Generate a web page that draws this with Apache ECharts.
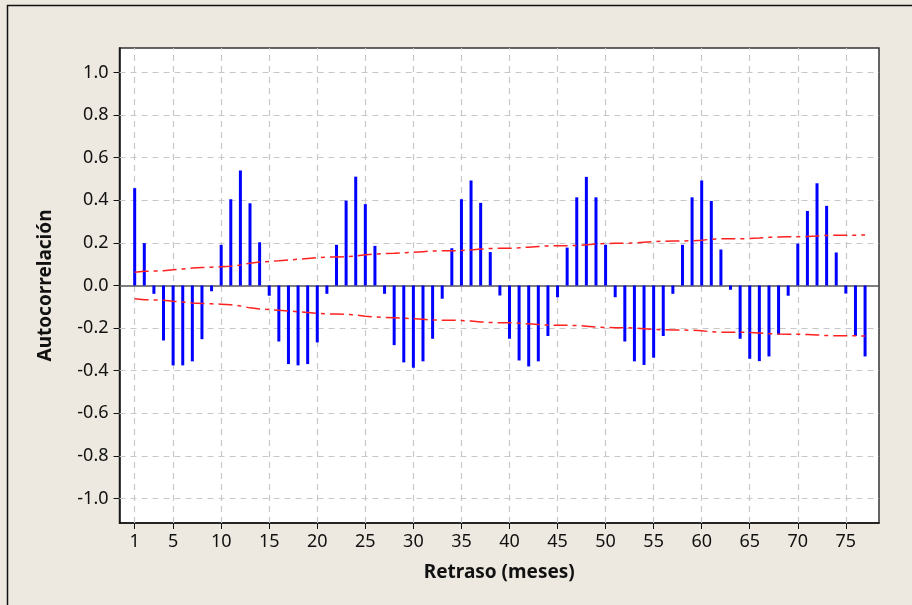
<!DOCTYPE html>
<html>
<head>
<meta charset="utf-8">
<script src="https://cdn.jsdelivr.net/npm/echarts@6/dist/echarts.min.js"></script>
<style>
html,body{margin:0;padding:0;background:#EDE9E0;}
#c{width:912px;height:605px;}
</style>
</head>
<body>
<div id="c"></div>
<script>
const lags = [];
for (let i = 1; i <= 77; i++) lags.push(i);
const acf = [
 0.457, 0.199, -0.039, -0.258, -0.375, -0.375, -0.356, -0.252, -0.027, 0.191,
 0.405, 0.540, 0.386, 0.203, -0.048, -0.263, -0.369, -0.375, -0.369, -0.267,
 -0.039, 0.191, 0.399, 0.511, 0.382, 0.186, -0.039, -0.280, -0.361, -0.386,
 -0.356, -0.250, -0.062, 0.175, 0.405, 0.493, 0.388, 0.157, -0.047, -0.250,
 -0.352, -0.380, -0.356, -0.237, -0.055, 0.178, 0.414, 0.510, 0.414, 0.191,
 -0.055, -0.263, -0.356, -0.373, -0.339, -0.237, -0.039, 0.191, 0.414, 0.493,
 0.397, 0.169, -0.020, -0.250, -0.344, -0.355, -0.333, -0.231, -0.048, 0.197,
 0.350, 0.480, 0.374, 0.155, -0.038, -0.237, -0.333
];
const upperLimit = [
 0.062, 0.067, 0.068, 0.069, 0.074, 0.078, 0.082, 0.084, 0.086, 0.088,
 0.090, 0.096, 0.105, 0.110, 0.113, 0.116, 0.120, 0.123, 0.127, 0.131,
 0.133, 0.134, 0.135, 0.139, 0.144, 0.148, 0.150, 0.151, 0.153, 0.156,
 0.159, 0.162, 0.163, 0.163, 0.164, 0.167, 0.171, 0.174, 0.175, 0.175,
 0.177, 0.180, 0.183, 0.186, 0.187, 0.187, 0.188, 0.191, 0.195, 0.197,
 0.198, 0.198, 0.200, 0.203, 0.206, 0.208, 0.209, 0.209, 0.210, 0.213,
 0.217, 0.219, 0.219, 0.219, 0.221, 0.223, 0.226, 0.228, 0.229, 0.229,
 0.230, 0.232, 0.235, 0.236, 0.236, 0.236, 0.237
];
const lowerLimit = [
 -0.062, -0.067, -0.068, -0.069, -0.074, -0.078, -0.082, -0.084, -0.086, -0.088,
 -0.090, -0.096, -0.105, -0.110, -0.113, -0.116, -0.120, -0.123, -0.127, -0.131,
 -0.133, -0.134, -0.135, -0.139, -0.144, -0.148, -0.150, -0.151, -0.153, -0.156,
 -0.159, -0.162, -0.163, -0.163, -0.164, -0.167, -0.171, -0.174, -0.175, -0.175,
 -0.177, -0.180, -0.183, -0.186, -0.187, -0.187, -0.188, -0.191, -0.195, -0.197,
 -0.198, -0.198, -0.200, -0.203, -0.206, -0.208, -0.209, -0.209, -0.210, -0.213,
 -0.217, -0.219, -0.219, -0.219, -0.221, -0.223, -0.226, -0.228, -0.229, -0.229,
 -0.230, -0.232, -0.235, -0.236, -0.236, -0.236, -0.237
];
const xTicks = [1, 5, 10, 15, 20, 25, 30, 35, 40, 45, 50, 55, 60, 65, 70, 75];
const yTicks = [-1.0, -0.8, -0.6, -0.4, -0.2, 0.0, 0.2, 0.4, 0.6, 0.8, 1.0];
const xTitle = 'Retraso (meses)';
const yTitle = 'Autocorrelación';

const FONT = 'Noto Sans';
const chart = echarts.init(document.getElementById('c'), null, {renderer: 'canvas'});

const gridLines = [];
xTicks.forEach(v => gridLines.push({xAxis: v}));
yTicks.forEach(v => { if (v !== 0) gridLines.push({yAxis: v}); });

chart.setOption({
  animation: false,
  backgroundColor: '#EDE9E0',
  graphic: [{
    type: 'rect', silent: true, z: -1,
    shape: {x: 7.5, y: 5.5, width: 940, height: 640},
    style: {fill: 'none', stroke: '#111', lineWidth: 1.5}
  }],
  grid: {
    left: 119.5, right: 33, top: 48, bottom: 82,
    show: true, backgroundColor: '#ffffff', borderColor: '#333', borderWidth: 1.5
  },
  xAxis: {
    type: 'value', min: -0.58, max: 78.45,
    name: xTitle, nameLocation: 'middle', nameGap: 40,
    nameTextStyle: {fontFamily: FONT, fontSize: 19, fontWeight: 'bold', color: '#111'},
    axisLine: {show: true, onZero: false, lineStyle: {color: '#111', width: 1.5}},
    axisTick: {show: true, length: 6, customValues: xTicks, lineStyle: {color: '#111', width: 1}},
    axisLabel: {customValues: xTicks, margin: 10, fontFamily: FONT, fontSize: 18, color: '#111'},
    splitLine: {show: false}
  },
  yAxis: {
    type: 'value', min: -1.115, max: 1.115,
    name: yTitle, nameLocation: 'middle', nameGap: 64, nameRotate: 90,
    nameTextStyle: {fontFamily: FONT, fontSize: 19, fontWeight: 'bold', color: '#111'},
    axisLine: {show: true, onZero: false, lineStyle: {color: '#111', width: 1.5}},
    axisTick: {show: true, length: 6, customValues: yTicks, lineStyle: {color: '#111', width: 1}},
    axisLabel: {customValues: yTicks, margin: 11, fontFamily: FONT, fontSize: 18, color: '#111',
      formatter: v => v.toFixed(1)},
    splitLine: {show: false}
  },
  series: [
    {
      type: 'line', data: [], silent: true, z: 1,
      markLine: {
        silent: true, z: 1, symbol: ['none', 'none'], label: {show: false},
        lineStyle: {color: '#c8c8c8', type: [6, 5], width: 1.2},
        data: gridLines
      }
    },
    {
      type: 'line', data: [], silent: true, z: 2,
      markLine: {
        silent: true, z: 2, symbol: ['none', 'none'], label: {show: false},
        lineStyle: {color: '#555', type: 'solid', width: 1.5},
        data: [{yAxis: 0}]
      }
    },
    {
      type: 'bar', barWidth: 3, z: 4,
      itemStyle: {color: '#0000FF'},
      data: lags.map((l, i) => [l, acf[i]])
    },
    {
      type: 'line', symbol: 'none', z: 5,
      lineStyle: {color: '#FF2020', width: 1.5, type: [14, 5, 4, 5]},
      data: lags.map((l, i) => [l, upperLimit[i]])
    },
    {
      type: 'line', symbol: 'none', z: 5,
      lineStyle: {color: '#FF2020', width: 1.5, type: [14, 5, 4, 5]},
      data: lags.map((l, i) => [l, lowerLimit[i]])
    }
  ]
});
</script>
</body>
</html>
